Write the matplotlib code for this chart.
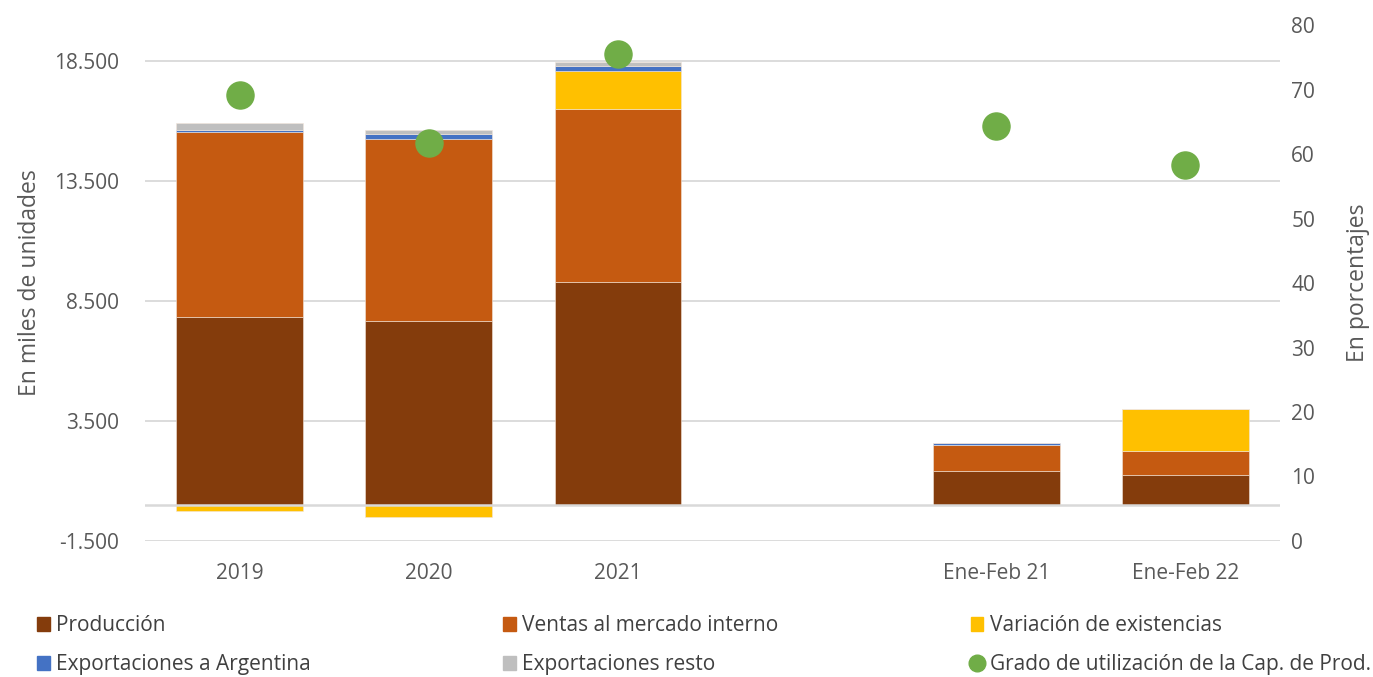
import numpy as np
import matplotlib
matplotlib.use("Agg")
import matplotlib.pyplot as plt
from matplotlib.ticker import FuncFormatter
from matplotlib.lines import Line2D
from matplotlib.patches import Patch

# Data
categories = ["2019", "2020", "2021", "", "Ene-Feb 21", "Ene-Feb 22"]
produccion = [7850, 7650, 9300, 0, 1400, 1250]
ventas_internas = [7700, 7600, 7200, 0, 1120, 1000]
variacion_existencias = [-250, -480, 1580, 0, 0, 1750]
export_argentina = [80, 200, 200, 0, 80, 0]
export_resto = [280, 170, 200, 0, 0, 0]
grado_utilizacion = [69.2, 61.7, 75.5, np.nan, 64.3, 58.3]

series_names = ["Producción", "Ventas al mercado interno", "Variación de existencias",
                "Exportaciones a Argentina", "Exportaciones resto"]
series_colors = ["#843C0C", "#C55A11", "#FFC000", "#4472C4", "#BFBFBF"]
dot_color = "#70AD47"
dot_name = "Grado de utilización de la Cap. de Prod."

plt.rcParams['font.family'] = ['Open Sans', 'DejaVu Sans']
text_color = "#595959"
grid_color = "#D9D9D9"

fig = plt.figure(figsize=(13.73, 6.77), dpi=100)
ax = fig.add_axes([0.1056, 0.2009, 0.8267, 0.7621])

x = np.arange(len(categories))
width = 0.67

# Excel-like stacking: positives upward, negatives downward
pos_base = np.zeros(len(categories))
neg_base = np.zeros(len(categories))
for vals, color in zip([produccion, ventas_internas, variacion_existencias,
                        export_argentina, export_resto], series_colors):
    vals = np.array(vals, dtype=float)
    bottoms = np.where(vals >= 0, pos_base, neg_base)
    ax.bar(x, vals, width, bottom=bottoms, color=color,
           edgecolor="#f2e6dc", linewidth=0.4, zorder=2)
    pos_base += np.where(vals > 0, vals, 0)
    neg_base += np.where(vals < 0, vals, 0)

ax.set_ylim(-1500, 20000)
ax.set_xlim(-0.5, len(categories) - 0.5)
ax.set_yticks([-1500, 3500, 8500, 13500, 18500])
ax.yaxis.set_major_formatter(FuncFormatter(lambda v, p: f"{v:,.0f}".replace(",", ".")))
ax.grid(axis="y", color=grid_color, linewidth=1.3, zorder=0)
ax.axhline(0, color=grid_color, linewidth=1.8, zorder=3)
ax.set_axisbelow(True)
for s in ax.spines.values():
    s.set_visible(False)
ax.tick_params(axis="y", length=0, labelsize=15, colors=text_color, pad=19)
ax.tick_params(axis="x", length=0, labelsize=15, colors=text_color, pad=16)
ax.set_xticks(x)
ax.set_xticklabels(categories)
ax.set_ylabel("En miles de unidades", fontsize=16.5, color=text_color, labelpad=8)

ax2 = ax.twinx()
ax2.scatter(x, grado_utilizacion, s=380, color=dot_color, zorder=5)
ax2.set_ylim(0, 80)
ax2.set_yticks(np.arange(0, 81, 10))
for s in ax2.spines.values():
    s.set_visible(False)
ax2.tick_params(axis="y", length=0, labelsize=15, colors=text_color, pad=8)
ax2.set_ylabel("En porcentajes", fontsize=16.5, color=text_color, labelpad=22)

# Legend: 3 columns, filled column-wise
handles = [Patch(color=c) for c in series_colors]
dot_handle = Line2D([], [], marker="o", linestyle="", color=dot_color, markersize=12)
order_h = [handles[0], handles[3], handles[1], handles[4], handles[2], dot_handle]
order_l = [series_names[0], series_names[3], series_names[1], series_names[4],
           series_names[2], dot_name]
fig.legend(order_h, order_l, ncol=3, loc="upper left", bbox_to_anchor=(0.027, 0.091),
           frameon=False, fontsize=15, labelcolor="#404040", handlelength=0.6,
           handleheight=0.7, handletextpad=0.3, columnspacing=9.25, labelspacing=0.85,
           borderpad=0, borderaxespad=0)

fig.savefig("out.png", dpi=100)
